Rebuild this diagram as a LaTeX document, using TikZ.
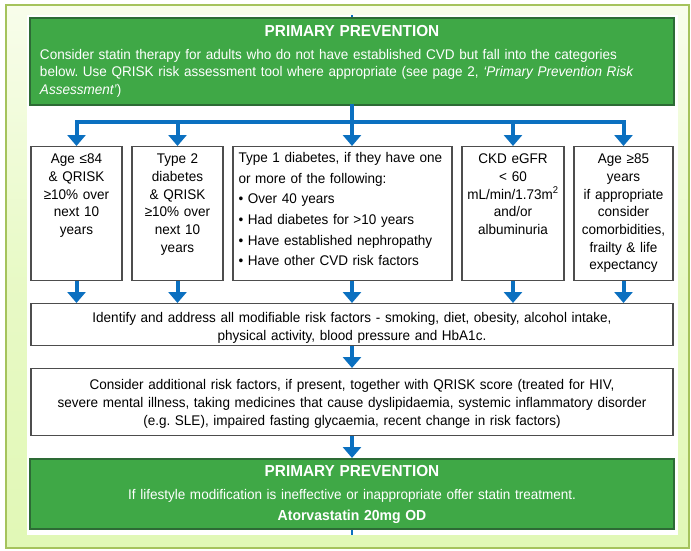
\documentclass[tikz,border=0pt]{standalone}
\usepackage{fontspec}
\setmainfont{Liberation Sans}[FakeStretch=0.965]
\frenchspacing
\usetikzlibrary{arrows.meta}

\definecolor{primgreen}{HTML}{3FA846}
\definecolor{darkgreen}{HTML}{2D6B35}
\definecolor{flowblue}{HTML}{0B70C0}
\definecolor{boxgray}{HTML}{4D4D4D}
\definecolor{lightgreen}{HTML}{E1F8B6}
\definecolor{palegreen}{HTML}{F8FDEB}
\definecolor{framegreen}{HTML}{A5C35C}

\begin{document}
\begin{tikzpicture}[x=1pt,y=-1pt,
    body/.style={font=\fontsize{14}{17.7}\selectfont},
    box/.style={body, draw=boxgray, line width=1.2pt, fill=white, inner sep=0pt, anchor=north, align=center},
    greenbox/.style={draw=darkgreen, line width=1.5pt, fill=primgreen, text=white, inner sep=0pt, anchor=north},
    flow/.style={draw=flowblue, line width=4pt, -{Triangle[width=18pt,length=11pt]}},
    spine/.style={draw=flowblue, line width=4pt, line cap=rect},
    link/.style={draw=flowblue, line width=2.5pt}]

    % Background and frame
    \useasboundingbox (0,0) rectangle (691,550);
    \fill[white] (0,0) rectangle (691,550);
    \shade[top color=palegreen, bottom color=lightgreen, middle color=lightgreen!70!palegreen] (6,5) rectangle (689,548);
    \draw[framegreen, line width=2pt] (6,5) rectangle (689,548);
    \fill[white] (27,15) rectangle (678,535);

    % Top box
    \node[greenbox, text width=624pt, inner xsep=10pt, text height=19pt, text depth=68pt,
          font=\fontsize{14}{17.5}\selectfont] (top) at (352,17)
        {{\centering\fontsize{15.9}{17.5}\selectfont\bfseries PRIMARY PREVENTION\par}\vspace{5pt}%
         \raggedright Consider statin therapy for adults who do not have established CVD but fall into the categories\\
         below. Use QRISK risk assessment tool where appropriate (see page 2, \textit{‘Primary Prevention Risk\\
         Assessment’})};

    % Categories
    \node[box, text width=91pt, text height=17pt, text depth=117pt] (age) at (76.5,146)
        {Age ≤84\\ \& QRISK\\ ≥10\% over\\ next 10\\ years};
    \node[box, text width=91pt, text height=17pt, text depth=117pt] (type2) at (177.5,146)
        {Type 2\\ diabetes\\ \& QRISK\\ ≥10\% over\\ next 10\\ years};
    \node[box, text width=208pt, inner xsep=5.5pt, text height=16pt, text depth=118pt, align=left,
          font=\fontsize{14}{20.6}\selectfont] (type1) at (342.5,146)
        {Type 1 diabetes, if they have one\\ or more of the following:\\ • Over 40 years\\
         • Had diabetes for >10 years\\ • Have established nephropathy\\ • Have other CVD risk factors};
    \node[box, text width=102pt, text height=17pt, text depth=117pt] (ckd) at (513,146)
        {CKD eGFR\\ < 60\\ mL/min/1.73m\textsuperscript{2}\\ and/or\\ albuminuria};
    \node[box, text width=99pt, text height=17pt, text depth=117pt] (old) at (623.5,146)
        {Age ≥85\\ years\\ if appropriate\\ consider\\ comorbidities,\\ frailty \& life\\ expectancy};

    % Lower steps
    \node[box, text width=642pt, text height=19pt, text depth=23pt] (ident) at (352,303)
        {Identify and address all modifiable risk factors - smoking, diet, obesity, alcohol intake,\\
         physical activity, blood pressure and HbA1c.};
    \node[box, text width=642pt, text height=21pt, text depth=46pt] (extra) at (352,368)
        {Consider additional risk factors, if present, together with QRISK score (treated for HIV,\\
         severe mental illness, taking medicines that cause dyslipidaemia, systemic inflammatory disorder\\
         (e.g. SLE), impaired fasting glycaemia, recent change in risk factors)};
    \node[greenbox, text width=644pt, text height=18pt, text depth=52pt, align=center,
          font=\fontsize{14}{21}\selectfont] (final) at (352,458)
        {{\fontsize{15.9}{21}\selectfont\bfseries PRIMARY PREVENTION}\\[2pt]
         If lifestyle modification is ineffective or inappropriate offer statin treatment.\\
         {\fontsize{14.5}{21}\selectfont\bfseries Atorvastatin 20mg OD}};

    % Connectors
    \coordinate (topin) at (352,15);
    \coordinate (botout) at (352,535);
    \coordinate (split) at (352,122);
    \draw[link] (topin) -- (top.north);
    \draw[link] (final.south) -- (botout);
    \draw[spine] (top.south) -- (split);
    \draw[spine] (age.north |- split) -- (old.north |- split);
    \foreach \n in {age,type2,ckd,old}
        \draw[flow] (\n.north |- split) -- (\n.north);
    \draw[flow] (split) -- (split |- type1.north);
    \foreach \n in {age,type2,ckd,old}
        \draw[flow] (\n.south) -- (\n.south |- ident.north);
    \draw[flow] (type1.south -| split) -- (ident.north -| split);
    \draw[flow] (ident.south) -- (extra.north);
    \draw[flow] (extra.south) -- (final.north);
\end{tikzpicture}
\end{document}
